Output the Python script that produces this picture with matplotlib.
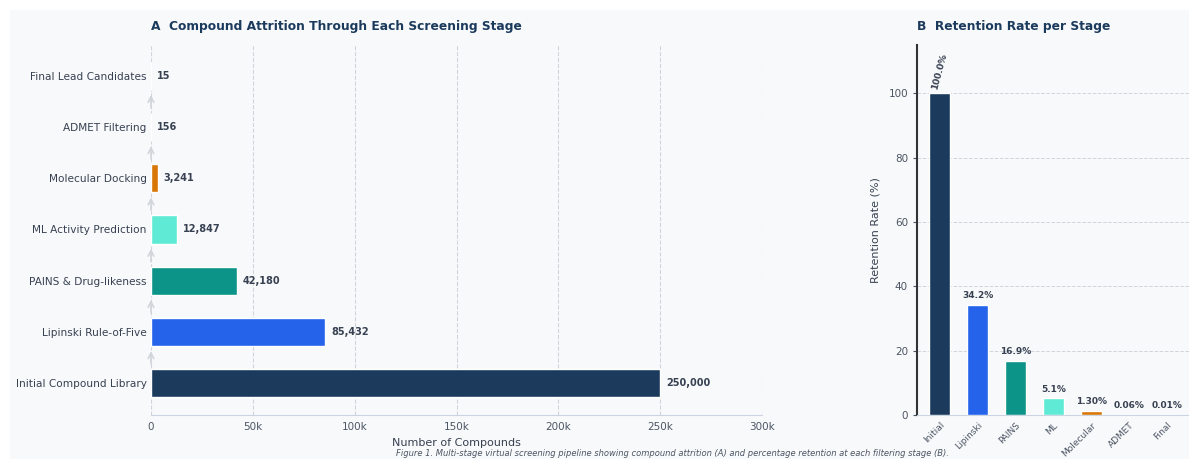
import matplotlib.pyplot as plt
from matplotlib.patches import Rectangle
from matplotlib.ticker import FuncFormatter

stages = [
    "Initial Compound Library",
    "Lipinski Rule-of-Five",
    "PAINS & Drug-likeness",
    "ML Activity Prediction",
    "Molecular Docking",
    "ADMET Filtering",
    "Final Lead Candidates",
]
short_names = ["Initial", "Lipinski", "PAINS", "ML", "Molecular", "ADMET", "Final"]
counts = [250000, 85432, 42180, 12847, 3241, 156, 15]
colors = ["#1b3a5c", "#2563eb", "#0d9488", "#5eead4", "#d97706", "#7c3aed", "#dc2626"]

BG = "#f8f9fb"
NAVY = "#1b3a5c"
TXT = "#374151"

retention = [c / counts[0] * 100 for c in counts]

fig = plt.figure(figsize=(11.89, 4.59), dpi=100, facecolor="white")
fig.patches.append(Rectangle((10 / 1189, 0), 1, 1 - 10 / 459, transform=fig.transFigure,
                             facecolor=BG, edgecolor="none", zorder=-10))

# ---- Panel A ----
axA = fig.add_axes([151 / 1189, 1 - 415 / 459, (762 - 151) / 1189, (415 - 45) / 459])
axA.set_facecolor(BG)
ypos = list(range(len(stages)))
axA.barh(ypos, counts, height=0.55, color=colors, edgecolor="white", linewidth=1, zorder=3)
for y, c in zip(ypos, counts):
    axA.text(c + 3000, y, f"{c:,}", va="center", ha="left", fontsize=7,
             fontweight="bold", color=TXT, zorder=4)
for i in range(len(stages) - 1):
    axA.annotate("", xy=(0, i + 1 - 0.32), xytext=(0, i + 0.32),
                 arrowprops=dict(arrowstyle="->", color="#d1d5db", lw=1.2), zorder=2)
axA.set_yticks(ypos)
axA.set_yticklabels(stages, fontsize=7.6, color=TXT)
axA.set_xlim(0, 300000)
axA.set_ylim(-0.62, 6.6)
axA.set_xticks([0, 50000, 100000, 150000, 200000, 250000, 300000])
axA.xaxis.set_major_formatter(FuncFormatter(lambda x, _: "0" if x == 0 else f"{x / 1000:.0f}k"))
axA.tick_params(axis="x", labelsize=7.5, colors="#4b5563", length=0, pad=5)
axA.tick_params(axis="y", length=0, pad=3)
axA.grid(axis="x", linestyle="--", color="#d1d5db", linewidth=0.8, zorder=0)
for s in ["top", "right", "left"]:
    axA.spines[s].set_visible(False)
axA.spines["bottom"].set_color("#cbd5e1")
axA.set_xlabel("Number of Compounds", fontsize=8, color=TXT, labelpad=4)
axA.set_title("A  Compound Attrition Through Each Screening Stage", loc="left",
              fontsize=8.8, fontweight="bold", color=NAVY, pad=11)

# ---- Panel B ----
axB = fig.add_axes([917 / 1189, 1 - 415 / 459, (1190 - 917) / 1189, (415 - 45) / 459])
axB.set_facecolor(BG)
xpos = list(range(len(short_names)))
axB.bar(xpos, retention, width=0.55, color=colors, edgecolor="white", linewidth=1, zorder=3)
for x, r in zip(xpos, retention):
    label = f"{r:.1f}%" if r >= 5 else f"{r:.2f}%"
    if x == 0:
        axB.text(x, r + 1, label, ha="center", va="bottom", rotation=75, fontsize=6.5,
                 fontweight="bold", color=TXT)
    else:
        axB.text(x, r + 1.5, label, ha="center", va="bottom", fontsize=6.5,
                 fontweight="bold", color=TXT)
axB.set_xticks(xpos)
axB.set_xticklabels(short_names, rotation=45, ha="right", rotation_mode="anchor",
                    fontsize=6.5, color="#4b5563")
axB.set_xlim(-0.6, 6.6)
axB.set_ylim(0, 115)
axB.set_yticks([0, 20, 40, 60, 80, 100])
axB.tick_params(axis="y", labelsize=7.5, colors="#4b5563", length=3)
axB.tick_params(axis="x", length=0, pad=4)
axB.grid(axis="y", linestyle="--", color="#d1d5db", linewidth=0.7, zorder=0)
axB.spines["top"].set_visible(False)
axB.spines["right"].set_visible(False)
axB.spines["left"].set_color("#333333")
axB.spines["left"].set_linewidth(1.5)
axB.spines["bottom"].set_color("#cbd5e1")
axB.set_ylabel("Retention Rate (%)", fontsize=8, color=TXT, labelpad=6)
axB.set_title("B  Retention Rate per Stage", loc="left", fontsize=8.8,
              fontweight="bold", color=NAVY, pad=11)

fig.text(672 / 1189, 1 - 454 / 459,
         "Figure 1. Multi-stage virtual screening pipeline showing compound attrition (A) "
         "and percentage retention at each filtering stage (B).",
         ha="center", va="center", fontsize=6, style="italic", color="#4b5563")

fig.savefig("out.png", dpi=100, facecolor="white")
